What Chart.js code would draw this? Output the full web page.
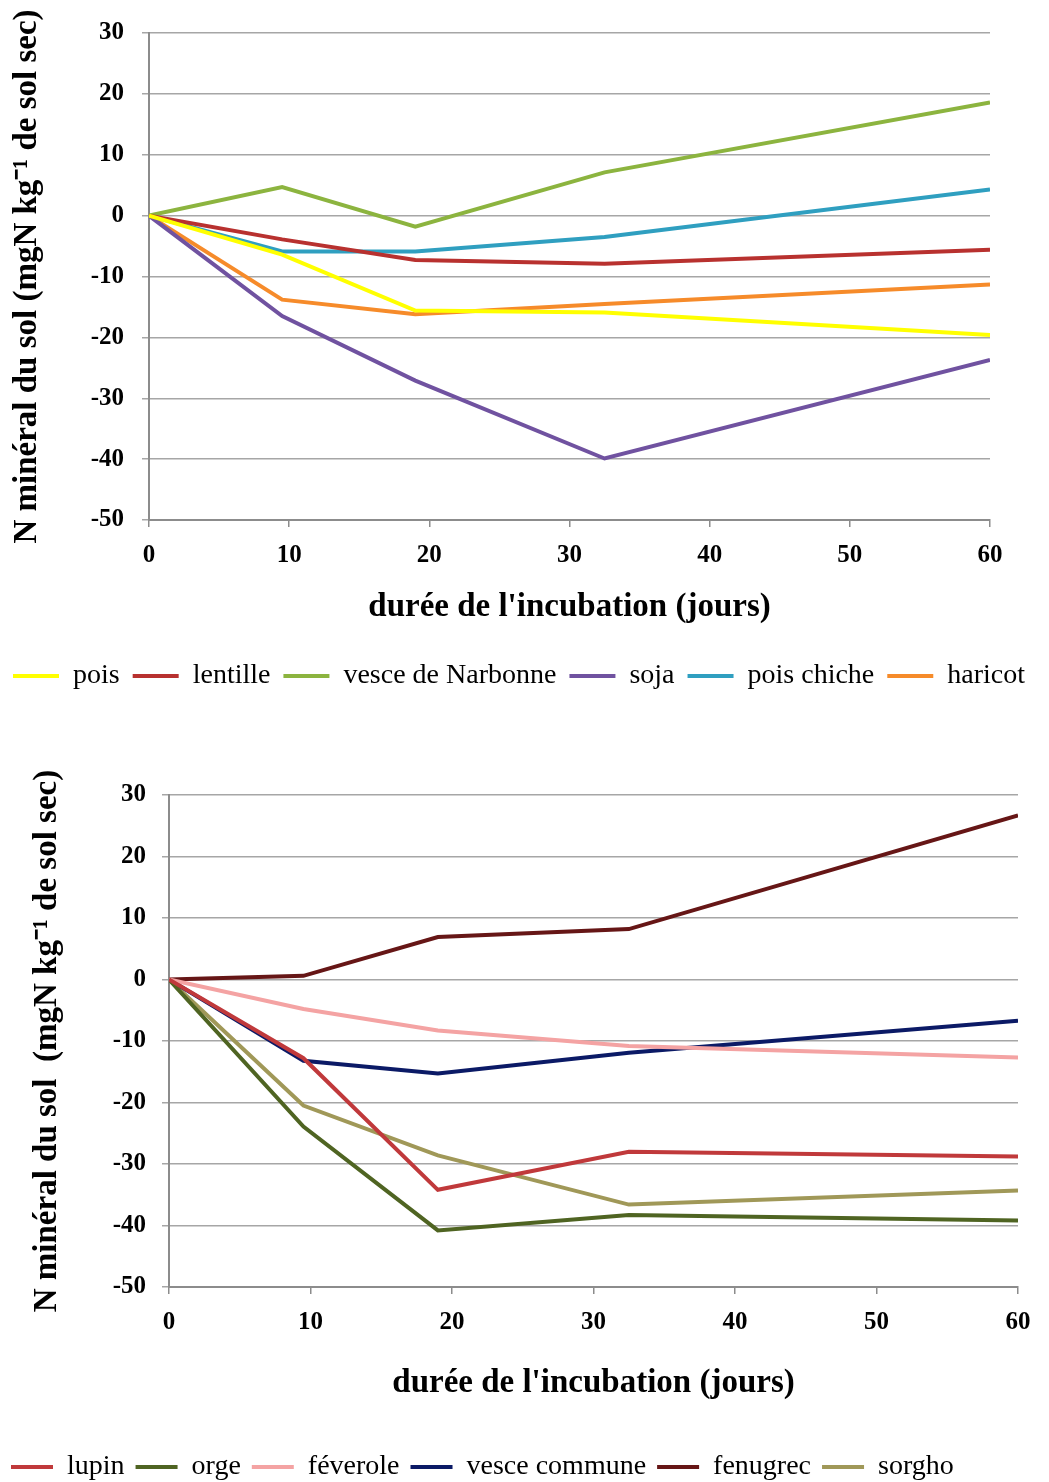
<!DOCTYPE html>
<html>
<head>
<meta charset="utf-8">
<script src="https://cdn.jsdelivr.net/npm/chart.js@4.4.0/dist/chart.umd.min.js"></script>
<style>
html, body { margin: 0; padding: 0; background: #fff; overflow: hidden; }
#chart1 { position: absolute; left: 0; top: 0; }
#chart2 { position: absolute; left: 0; top: 740px; }
</style>
</head>
<body>
<canvas id="chart1" width="1049" height="700"></canvas>
<canvas id="chart2" width="1049" height="751"></canvas>
<script>
// incubation days (x positions of the measures)
const days = [0, 9.5, 19, 32.5, 60];

// top chart
const pois = [0, -6.4, -15.6, -15.9, -19.6];
const lentille = [0, -3.9, -7.3, -7.9, -5.6];
const vesceNarbonne = [0, 4.7, -1.8, 7.1, 18.6];
const soja = [0, -16.5, -27.1, -39.9, -23.7];
const poisChiche = [0, -5.9, -5.9, -3.5, 4.3];
const haricot = [0, -13.8, -16.2, -14.5, -11.3];

// bottom chart
const lupin = [0, -12.8, -34.2, -28.0, -28.8];
const orge = [0, -23.9, -40.8, -38.3, -39.2];
const feverole = [0, -4.8, -8.3, -10.8, -12.7];
const vesceCommune = [0, -13.2, -15.3, -11.9, -6.7];
const fenugrec = [0, 0.6, 6.9, 8.2, 26.7];
const sorgho = [0, -20.5, -28.6, -36.6, -34.3];

const yTitle1 = 'N minéral du sol (mgN kg⁻¹ de sol sec)';
const yTitle2 = 'N minéral du sol  (mgN kg⁻¹ de sol sec)';
const xTitle = "durée de l'incubation (jours)";

Chart.defaults.font.family = "'Liberation Serif', 'Times New Roman', serif";
Chart.defaults.color = '#000';

function pts(vals) {
    return vals.map((v, i) => ({x: days[i], y: v}));
}

function ds(label, vals, color) {
    return {
        label: label,
        data: pts(vals),
        borderColor: color,
        backgroundColor: color,
        borderWidth: 4,
        pointRadius: 0,
        tension: 0
    };
}

function makeChart(id, datasets, s) {
    return new Chart(document.getElementById(id), {
        type: 'line',
        data: {datasets: datasets},
        options: {
            responsive: false,
            animation: false,
            devicePixelRatio: 1,
            layout: {padding: {top: s.top, left: 0, right: 0, bottom: 0}},
            plugins: {
                tooltip: {enabled: false},
                legend: {
                    position: 'bottom',
                    align: 'start',
                    labels: {
                        usePointStyle: true,
                        pointStyle: 'line',
                        pointStyleWidth: s.legendBox,
                        padding: s.legendPad,
                        font: {size: 28}
                    }
                }
            },
            scales: {
                x: {
                    type: 'linear',
                    min: 0,
                    max: 60,
                    ticks: {stepSize: 10, padding: 14, font: {size: 25, weight: 'bold'}},
                    grid: {drawOnChartArea: false, tickLength: 7, tickColor: '#8c8c8c', lineWidth: 1.5},
                    border: {color: '#8c8c8c', width: 2},
                    title: {display: true, text: xTitle, font: {size: 33, weight: 'bold'}, padding: {top: 0, bottom: s.xTitlePad}},
                    afterFit: scale => { scale.height = s.xHeight; }
                },
                y: {
                    min: -50,
                    max: 30,
                    ticks: {stepSize: 10, padding: s.yTickPad, font: {size: 25, weight: 'bold'}},
                    grid: {color: '#a6a6a6', lineWidth: 1.5, tickLength: 7},
                    border: {color: '#8c8c8c', width: 2},
                    title: {display: true, text: s.yTitle, font: {size: 33, weight: 'bold'}, padding: {top: s.yTitlePad, bottom: 0}},
                    afterFit: scale => { scale.width = s.left; }
                },
                right: {
                    position: 'right',
                    display: true,
                    ticks: {display: false},
                    grid: {display: false},
                    border: {display: false},
                    afterFit: scale => { scale.width = s.right; }
                }
            }
        }
    });
}

makeChart('chart1', [
    ds('pois', pois, '#ffff00'),
    ds('lentille', lentille, '#b8312f'),
    ds('vesce de Narbonne', vesceNarbonne, '#8cb43f'),
    ds('soja', soja, '#7052a0'),
    ds('pois chiche', poisChiche, '#2f9fc0'),
    ds('haricot', haricot, '#f68b2a')
], {top: 33, left: 149, right: 59, xHeight: 129, xTitlePad: 22, yTickPad: 18, yTitlePad: 8,
    yTitle: yTitle1, legendBox: 46, legendPad: 13});

makeChart('chart2', [
    ds('lupin', lupin, '#c0393b'),
    ds('orge', orge, '#4f6422'),
    ds('féverole', feverole, '#f4a3a3'),
    ds('vesce commune', vesceCommune, '#0b1a66'),
    ds('fenugrec', fenugrec, '#661616'),
    ds('sorgho', sorgho, '#a09858')
], {top: 55, left: 169, right: 31, xHeight: 155, xTitlePad: 39, yTickPad: 16, yTitlePad: 28,
    yTitle: yTitle2, legendBox: 42, legendPad: 11});
</script>
</body>
</html>
